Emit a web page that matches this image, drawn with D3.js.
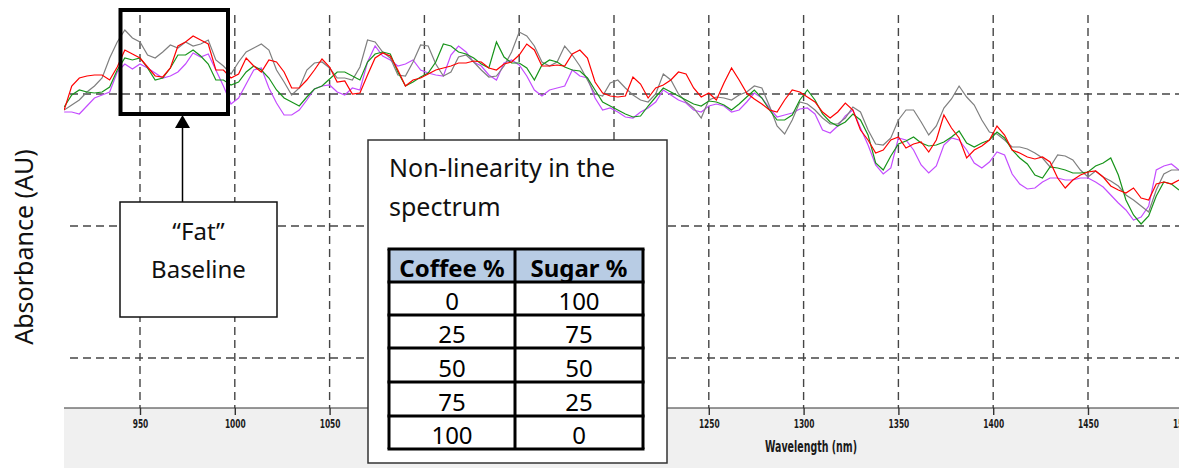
<!DOCTYPE html>
<html>
<head>
<meta charset="utf-8">
<script src="https://cdn.jsdelivr.net/npm/d3@7"></script>
<style>
  body { margin: 0; background: #fff; }
  svg { display: block; font-family: "Noto Sans", sans-serif; }
</style>
</head>
<body>
<svg id="chart" width="1179" height="468"></svg>
<script>
// absorbance readings in mAU, one value every 4 nm from 910 nm
const gray = [298,303,308,316,322,330,350,366,378,370,
  366,353,350,356,363,360,366,362,364,368,
  348,342,334,346,356,360,364,358,338,326,
  313,320,338,345,346,340,330,330,328,341,
  368,366,356,350,333,332,346,363,362,344,
  332,336,351,353,346,338,331,332,342,356,
  376,372,362,346,342,346,362,353,342,328,
  314,312,325,328,320,313,308,306,314,334,
  328,314,306,300,290,308,311,310,308,313,
  316,322,320,302,282,274,288,306,304,298,
  290,284,284,290,301,296,278,264,263,270,
  288,298,298,286,273,282,300,309,322,311,
  303,288,276,274,268,261,261,259,255,250,
  241,253,252,248,238,231,237,231,227,222,
  213,208,202,196,218,234,238,238]
const red = [298,322,330,332,333,333,328,341,358,354,
  350,341,332,331,340,362,366,372,368,364,
  338,338,330,334,350,342,336,348,346,336,
  320,320,328,338,349,341,326,327,314,315,
  333,350,355,352,338,322,328,330,334,338,
  340,342,345,345,347,346,340,338,344,346,
  353,364,358,342,342,343,342,354,358,350,
  326,315,312,311,312,331,324,310,320,323,
  328,336,334,320,311,315,308,325,340,328,
  315,309,304,298,296,308,318,316,311,306,
  296,290,296,305,298,278,268,255,258,268,
  271,260,264,266,256,268,293,280,270,250,
  258,262,268,282,273,258,255,251,249,251,
  246,230,220,228,233,236,237,231,222,218,
  215,220,210,208,224,226,224,228]
const green = [301,313,318,316,315,316,321,338,350,348,
  350,340,328,330,340,353,353,358,352,344,
  328,328,323,326,336,342,338,330,318,310,
  306,302,311,319,322,329,336,336,332,328,
  346,354,356,354,336,322,326,331,335,346,
  364,362,356,354,350,344,340,366,351,345,
  345,340,328,343,348,346,341,338,337,330,
  318,306,302,298,294,291,292,302,311,320,
  316,312,308,304,302,307,306,303,298,304,
  311,318,310,298,288,288,293,308,318,308,
  294,286,282,286,294,288,273,245,238,252,
  264,267,271,265,262,263,266,271,277,265,
  261,265,268,276,270,258,250,244,233,230,
  241,240,238,235,235,236,242,245,250,233,
  208,193,184,192,212,226,224,218]
const violet = [296,296,294,302,310,313,316,336,344,339,
  344,340,335,330,332,336,344,355,351,354,
  338,322,304,310,324,338,340,320,305,293,
  293,298,308,319,322,323,316,313,320,318,
  346,362,352,348,342,344,348,338,335,333,
  332,353,362,356,346,342,333,328,345,348,
  343,332,318,312,318,320,322,338,332,330,
  310,298,300,296,291,290,296,300,306,318,
  313,308,305,298,296,302,304,302,296,298,
  306,315,310,300,291,293,295,299,300,294,
  278,275,282,292,298,280,263,243,234,240,
  270,268,258,243,235,242,263,270,268,258,
  245,240,246,256,253,234,224,219,220,226,
  230,230,228,228,230,230,226,221,213,205,
  198,188,191,202,238,242,244,238]

// sampling grid of the spectrometer
const wavelengths = d3.range(910, 1499, 4)
const xTicks = [950, 1000, 1050, 1100, 1150, 1200, 1250, 1300, 1350, 1400, 1450, 1500]
const yGrid = [50, 182, 314]

const coffeePct = [0, 25, 50, 75, 100]
const sugarPct = [100, 75, 50, 25, 0]
const tableHead = ["Coffee %", "Sugar %"]

const width = 1179, height = 468
const plot = {left: 64, right: 1179, top: 15, bottom: 408}
const tableBox = {x: 368, y: 140, w: 299, h: 323}

const svg = d3.select("#chart")

const xScale = d3.scaleLinear().domain([950, 1450]).range([140, 1088])
const yScale = d3.scaleLinear().domain([50, 314]).range([358, 94])

// grey strip under the axis
svg.append("rect")
  .attr("x", plot.left).attr("y", plot.bottom)
  .attr("width", plot.right - plot.left).attr("height", height - plot.bottom)
  .attr("fill", "#f0f0f0")

// dashed grid
let grid = svg.append("g").attr("class", "grid")
  .attr("stroke", "#454545").attr("stroke-width", 1.4).attr("stroke-dasharray", "8,5")
grid.selectAll("line.v").data(xTicks).join("line")
  .attr("class", "v")
  .attr("x1", d => xScale(d)).attr("x2", d => xScale(d))
  .attr("y1", plot.top).attr("y2", plot.bottom)
grid.selectAll("line.h").data(yGrid).join("line")
  .attr("class", "h")
  .attr("x1", plot.left + 6).attr("x2", plot.right)
  .attr("y1", d => yScale(d)).attr("y2", d => yScale(d))

svg.append("clipPath").attr("id", "clip")
  .append("rect").attr("x", plot.left).attr("y", 0)
  .attr("width", plot.right - plot.left).attr("height", plot.bottom)

const series = [
  {name: "violet", color: "#c44cff", values: violet},
  {name: "gray", color: "#7f7f7f", values: gray},
  {name: "green", color: "#17941a", values: green},
  {name: "red", color: "#ff0000", values: red}
]

let path = d3.line()
  .x((d, i) => xScale(wavelengths[i]))
  .y(d => yScale(d))

svg.append("g").attr("clip-path", "url(#clip)")
  .selectAll("path").data(series).join("path")
  .attr("d", d => path(d.values))
  .attr("fill", "none")
  .attr("stroke", d => d.color)
  .attr("stroke-width", 1.2)

// x axis
svg.append("line")
  .attr("x1", plot.left).attr("x2", plot.right)
  .attr("y1", plot.bottom).attr("y2", plot.bottom)
  .attr("stroke", "#333").attr("stroke-width", 1.2)

let xAxis = svg.append("g")
  .attr("transform", "translate(0," + plot.bottom + ")")
  .call(d3.axisBottom(xScale).tickValues(xTicks).tickSize(7).tickPadding(4).tickFormat(d3.format("d")))
xAxis.select(".domain").remove()
xAxis.selectAll(".tick line").attr("stroke", "#333").attr("stroke-width", 1.4)
// labels that sit under the table call-out are not visible in the figure
xAxis.selectAll(".tick")
  .filter(d => xScale(d) > tableBox.x && xScale(d) < tableBox.x + tableBox.w)
  .select("text").remove()
xAxis.selectAll(".tick text")
  .attr("fill", "#1a1a1a")
  .style("font-family", "'DejaVu Sans Condensed', 'DejaVu Sans', sans-serif")
  .style("font-weight", "bold")
  .style("font-size", "13px")
  .attr("textLength", d => String(d).length * 5.2)
  .attr("lengthAdjust", "spacingAndGlyphs")

svg.append("text")
  .attr("x", 765).attr("y", 452)
  .attr("textLength", 92).attr("lengthAdjust", "spacingAndGlyphs")
  .style("font-family", "'DejaVu Sans Condensed', 'DejaVu Sans', sans-serif")
  .style("font-size", "15px")
  .style("font-weight", "bold")
  .attr("fill", "#1a1a1a")
  .text("Wavelength (nm)")

svg.append("text")
  .attr("transform", "translate(33,247) rotate(-90)")
  .style("text-anchor", "middle")
  .style("font-size", "25px")
  .attr("fill", "#111")
  .text("Absorbance (AU)")

// "fat" baseline call-out
svg.append("rect")
  .attr("x", 120.5).attr("y", 10).attr("width", 107.5).attr("height", 104)
  .attr("fill", "none").attr("stroke", "#000").attr("stroke-width", 4)
svg.append("line")
  .attr("x1", 182.5).attr("x2", 182.5).attr("y1", 127).attr("y2", 202)
  .attr("stroke", "#000").attr("stroke-width", 1.5)
svg.append("path")
  .attr("d", "M182.5,115 L175,128 L190,128 Z")
  .attr("fill", "#000")

svg.append("rect")
  .attr("x", 120).attr("y", 202).attr("width", 157).attr("height", 115)
  .attr("fill", "#fff").attr("stroke", "#111").attr("stroke-width", 1.5)
svg.selectAll("text.fat").data(["\u201cFat\u201d", "Baseline"]).join("text")
  .attr("class", "fat")
  .attr("x", 198.5).attr("y", (d, i) => 240 + i * 38)
  .style("text-anchor", "middle")
  .style("font-size", "24px")
  .attr("fill", "#111")
  .text(d => d)

// table call-out
let box = svg.append("g")
box.append("rect")
  .attr("x", tableBox.x).attr("y", tableBox.y).attr("width", tableBox.w).attr("height", tableBox.h)
  .attr("fill", "#fff").attr("stroke", "#333").attr("stroke-width", 1.5)
box.selectAll("text.title").data(["Non-linearity in the", "spectrum"]).join("text")
  .attr("class", "title")
  .attr("x", 389).attr("y", (d, i) => 177 + i * 39)
  .style("font-size", "25px")
  .attr("fill", "#111")
  .text(d => d)

const colX = [389, 515, 643]
const rowY = [249, 282, 315, 348, 382, 416, 449]

box.append("rect")
  .attr("x", colX[0]).attr("y", rowY[0])
  .attr("width", colX[2] - colX[0]).attr("height", rowY[1] - rowY[0])
  .attr("fill", "#b8cce4")

box.selectAll("text.head").data(tableHead).join("text")
  .attr("class", "head")
  .attr("x", (d, i) => (colX[i] + colX[i + 1]) / 2)
  .attr("y", rowY[1] - 5)
  .style("text-anchor", "middle")
  .style("font-size", "24px")
  .style("font-weight", "bold")
  .attr("fill", "#000")
  .text(d => d)

let rows = coffeePct.map((c, i) => [c, sugarPct[i]])
rows.forEach((r, ri) => {
  box.selectAll("text.r" + ri).data(r).join("text")
    .attr("class", "r" + ri)
    .attr("x", (d, i) => (colX[i] + colX[i + 1]) / 2)
    .attr("y", rowY[ri + 2] - 5)
    .style("text-anchor", "middle")
    .style("font-size", "24px")
    .attr("fill", "#000")
    .text(d => d)
})

let borders = box.append("g").attr("stroke", "#000").attr("stroke-width", 3)
borders.selectAll("line.rl").data(rowY).join("line")
  .attr("class", "rl")
  .attr("x1", colX[0] - 1.5).attr("x2", colX[2] + 1.5)
  .attr("y1", d => d).attr("y2", d => d)
borders.selectAll("line.cl").data(colX).join("line")
  .attr("class", "cl")
  .attr("x1", d => d).attr("x2", d => d)
  .attr("y1", rowY[0]).attr("y2", rowY[rowY.length - 1])
</script>
</body>
</html>
